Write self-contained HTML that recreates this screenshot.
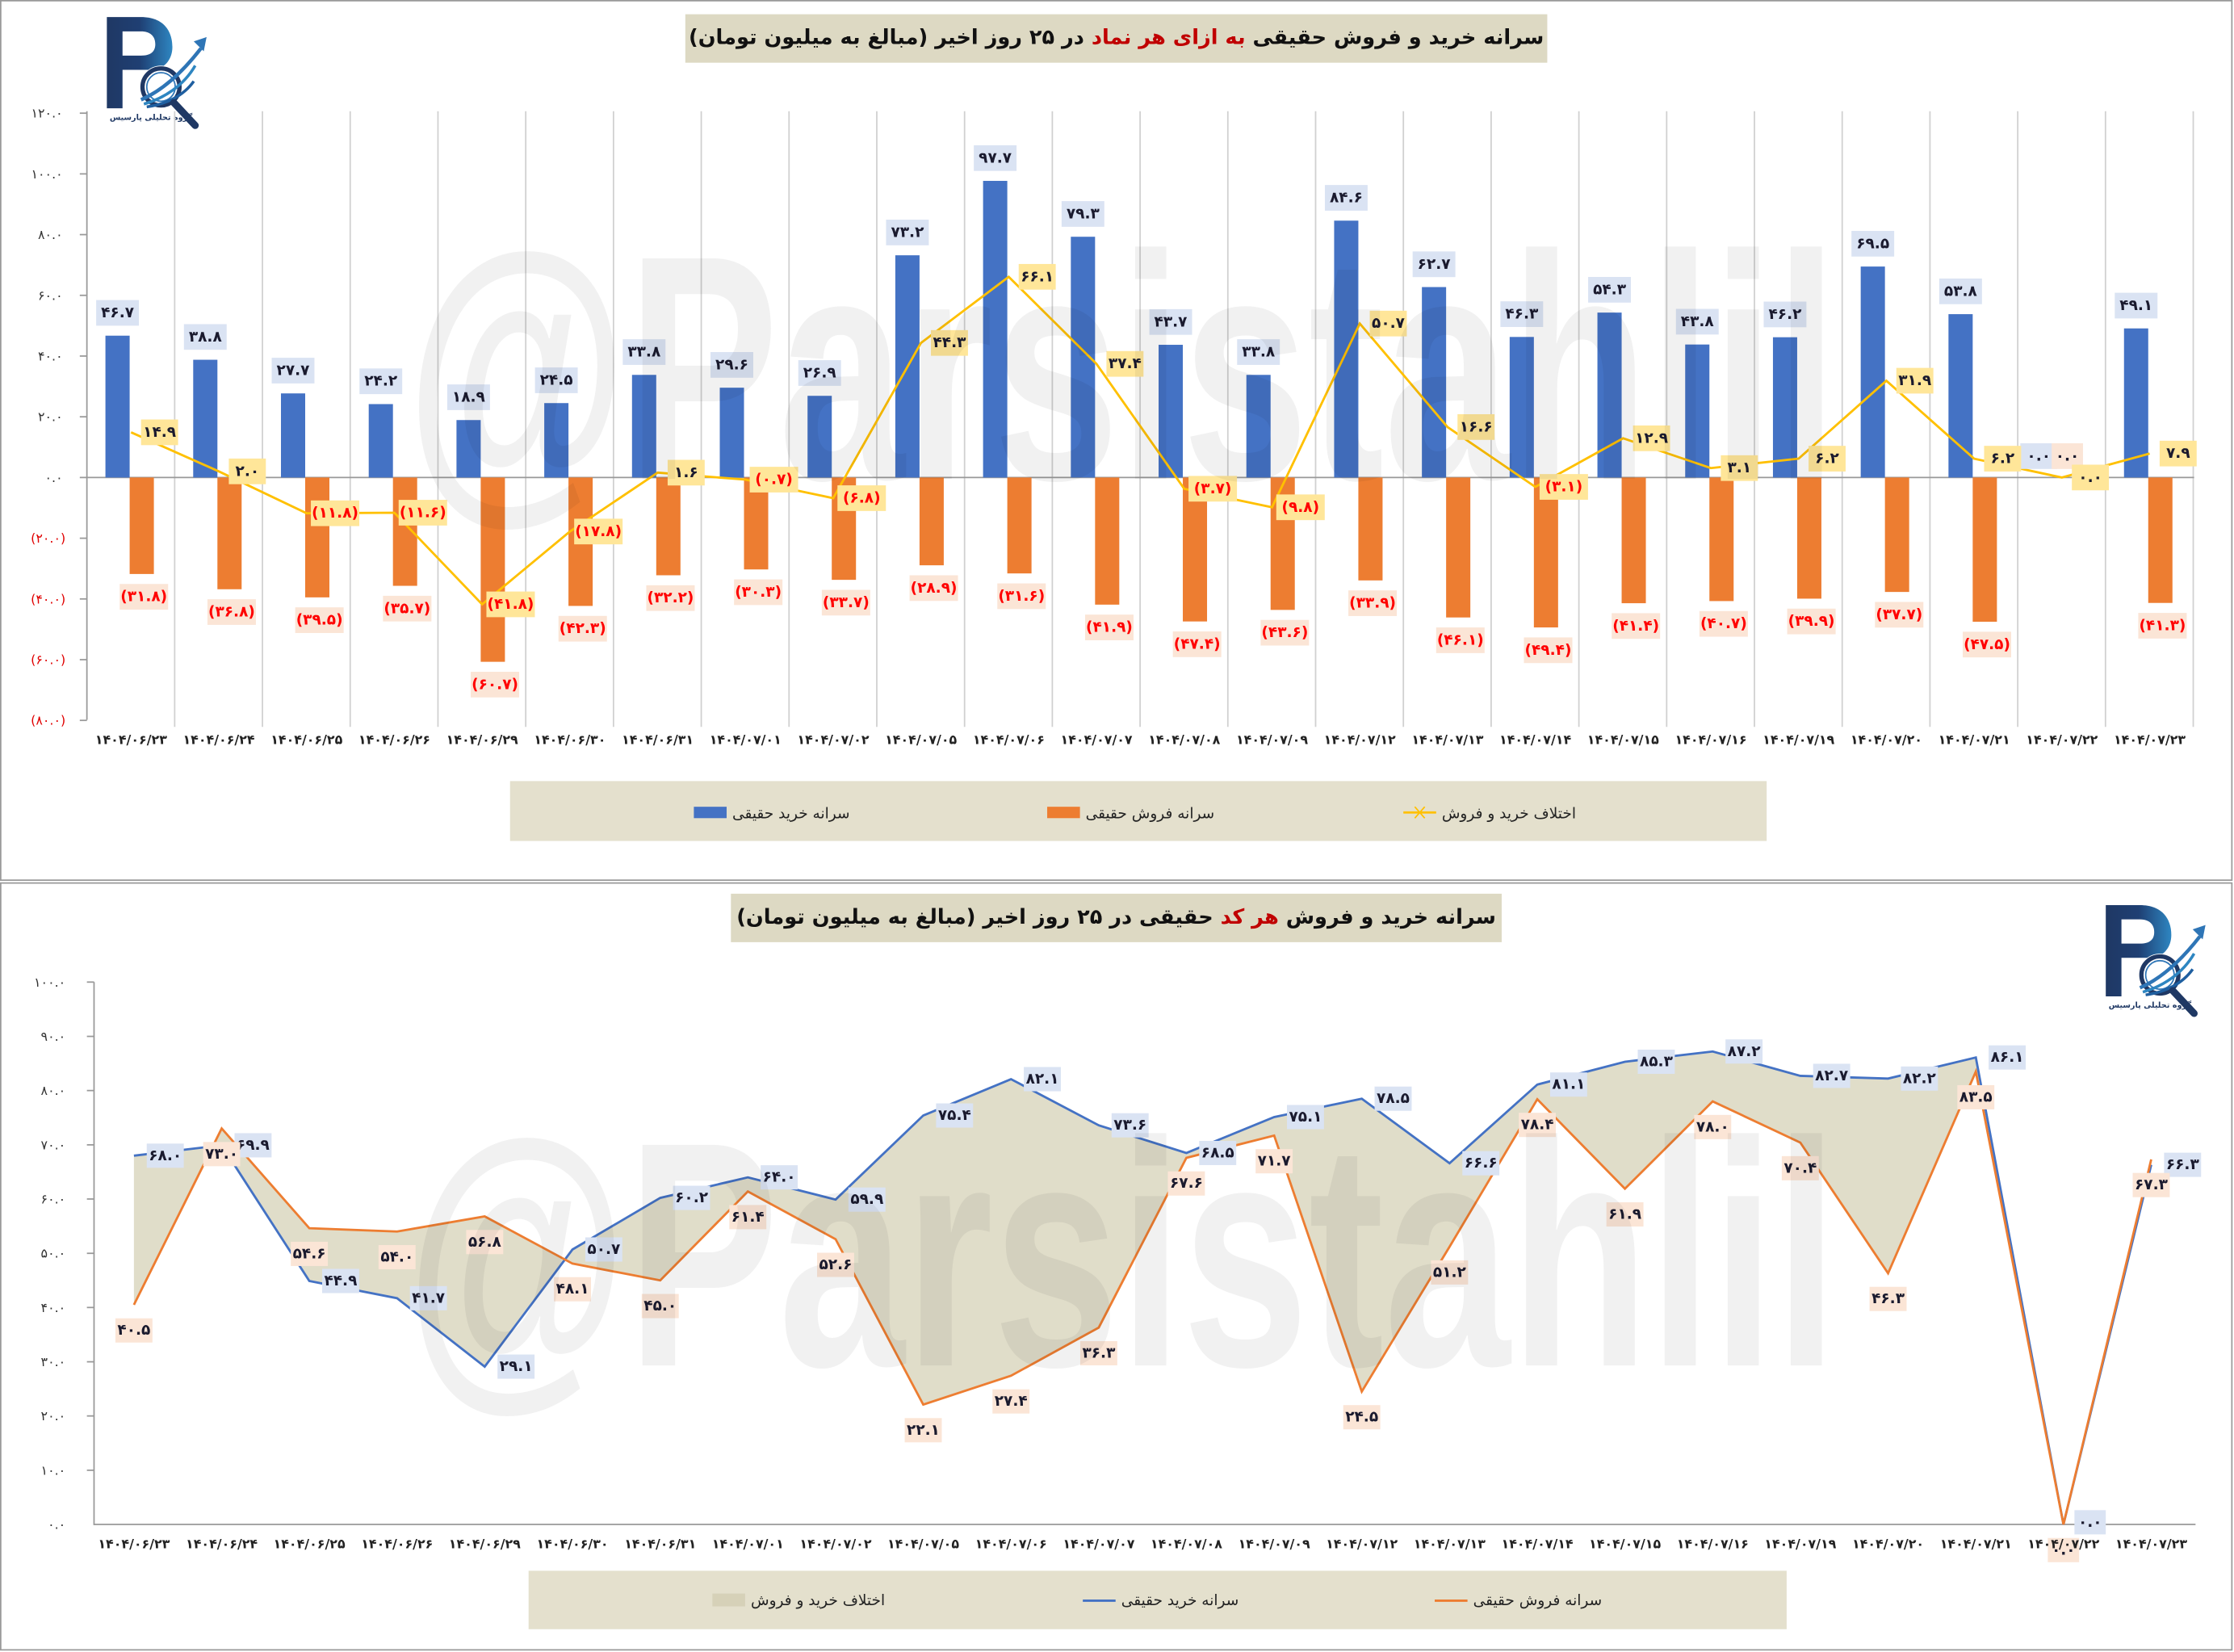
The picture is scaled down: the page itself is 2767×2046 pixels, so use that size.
<!DOCTYPE html>
<html><head><meta charset="utf-8">
<style>
html,body{margin:0;padding:0;background:#fff;}
body{width:2767px;height:2046px;overflow:hidden;position:relative;}
#w{position:absolute;left:0;top:0;width:1568px;height:1159px;transform:scale(1.76467,1.76531);transform-origin:0 0;}
svg{position:absolute;left:0;top:0;}
.t{font-family:"DejaVu Sans",sans-serif;font-weight:bold;font-size:10.5px;}
.ax{font-family:"DejaVu Sans",sans-serif;font-size:9px;fill:#333;}
.dx{font-family:"DejaVu Sans",sans-serif;font-weight:bold;font-size:9px;fill:#222;}
.ttl{position:absolute;background:#ddd9c3;font-family:"DejaVu Sans",sans-serif;font-weight:bold;color:#111;direction:rtl;white-space:nowrap;text-align:center;font-size:14.5px;line-height:34px;}
.ttl span{color:#c00000;}
.lg{font-family:"DejaVu Sans",sans-serif;font-size:10.5px;fill:#222;}
</style></head><body><div id="w">
<svg width="1568" height="1159" viewBox="0 0 1568 1159">
<defs>
<linearGradient id="lgp" x1="0" x2="1" y1="0" y2="0"><stop offset="0" stop-color="#1f3864"/><stop offset="0.5" stop-color="#1f3f73"/><stop offset="1" stop-color="#2e86c1"/></linearGradient>
<g id="logo">
<path d="M0 0 H24 C40 0 46 10 46 21 C46 30 40 37 31 37 L11 37 L11 64 L0 64 Z M11 10 L11 27 L24 27 C31 27 34 24 34 19 C34 13 30 10 24 10 Z" fill="url(#lgp)" fill-rule="evenodd"/>
<circle cx="38" cy="49" r="15" fill="#fff"/>
<circle cx="38" cy="49" r="13" fill="none" stroke="#1f3864" stroke-width="3"/>
<circle cx="38" cy="49" r="10" fill="none" stroke="#2e75b6" stroke-width="1"/>
<path d="M24 58 C38 52 52 40 66 22" fill="none" stroke="#2e75b6" stroke-width="2.5"/>
<path d="M26 61 C40 57 54 48 62 34" fill="none" stroke="#2e86c1" stroke-width="2"/>
<path d="M28 63 C42 61 54 55 61 45" fill="none" stroke="#1f5fa0" stroke-width="2"/>
<path d="M61 17 L70 14 L68 24 Z" fill="#2e75b6"/>
<path d="M47 60 L62 76" stroke="#1f3864" stroke-width="5" stroke-linecap="round"/>
<text x="2" y="72" font-family="DejaVu Sans,sans-serif" font-size="5.5" font-weight="bold" fill="#1f3864">گروه تحلیلی پارسیس</text>
</g>
</defs>
<rect x="0.5" y="0.5" width="1566" height="617" fill="#fff" stroke="#9a9a9a"/>
<rect x="0.5" y="619.5" width="1566" height="538" fill="#fff" stroke="#9a9a9a"/>
<use href="#logo" x="75" y="12"/>
<use href="#logo" x="1478" y="635"/>

<g stroke="#d0d0d0" stroke-width="1">
<line x1="122.6" y1="78" x2="122.6" y2="510"/><line x1="184.2" y1="78" x2="184.2" y2="510"/><line x1="245.8" y1="78" x2="245.8" y2="510"/><line x1="307.4" y1="78" x2="307.4" y2="510"/><line x1="369" y1="78" x2="369" y2="510"/><line x1="430.6" y1="78" x2="430.6" y2="510"/><line x1="492.2" y1="78" x2="492.2" y2="510"/><line x1="553.8" y1="78" x2="553.8" y2="510"/><line x1="615.4" y1="78" x2="615.4" y2="510"/><line x1="677" y1="78" x2="677" y2="510"/><line x1="738.6" y1="78" x2="738.6" y2="510"/><line x1="800.2" y1="78" x2="800.2" y2="510"/><line x1="861.8" y1="78" x2="861.8" y2="510"/><line x1="923.4" y1="78" x2="923.4" y2="510"/><line x1="985" y1="78" x2="985" y2="510"/><line x1="1046.6" y1="78" x2="1046.6" y2="510"/><line x1="1108.2" y1="78" x2="1108.2" y2="510"/><line x1="1169.8" y1="78" x2="1169.8" y2="510"/><line x1="1231.4" y1="78" x2="1231.4" y2="510"/><line x1="1293" y1="78" x2="1293" y2="510"/><line x1="1354.6" y1="78" x2="1354.6" y2="510"/><line x1="1416.2" y1="78" x2="1416.2" y2="510"/><line x1="1477.8" y1="78" x2="1477.8" y2="510"/><line x1="1539.4" y1="78" x2="1539.4" y2="510"/>
</g>
<g stroke="#999" stroke-width="1">
<line x1="61" y1="78" x2="61" y2="505"/>
<line x1="61" y1="335" x2="1540" y2="335"/>
<line x1="56" y1="79.4" x2="61" y2="79.4"/><line x1="56" y1="122" x2="61" y2="122"/><line x1="56" y1="164.6" x2="61" y2="164.6"/><line x1="56" y1="207.2" x2="61" y2="207.2"/><line x1="56" y1="249.8" x2="61" y2="249.8"/><line x1="56" y1="292.4" x2="61" y2="292.4"/><line x1="56" y1="335" x2="61" y2="335"/><line x1="56" y1="377.6" x2="61" y2="377.6"/><line x1="56" y1="420.2" x2="61" y2="420.2"/><line x1="56" y1="462.8" x2="61" y2="462.8"/><line x1="56" y1="505.4" x2="61" y2="505.4"/>
</g>
<g class="ax" text-anchor="end" dominant-baseline="central">
<text x="44" y="79.4">۱۲۰.۰</text><text x="44" y="122">۱۰۰.۰</text><text x="44" y="164.6">۸۰.۰</text><text x="44" y="207.2">۶۰.۰</text><text x="44" y="249.8">۴۰.۰</text><text x="44" y="292.4">۲۰.۰</text><text x="44" y="335">۰.۰</text>
<text x="46" y="377.6" fill="#e00000">(۲۰.۰)</text><text x="46" y="420.2" fill="#e00000">(۴۰.۰)</text><text x="46" y="462.8" fill="#e00000">(۶۰.۰)</text><text x="46" y="505.4" fill="#e00000">(۸۰.۰)</text>
</g>
<g fill="#4472c4">
<rect x="74" y="235.5" width="17" height="99.5"/><rect x="135.6" y="252.4" width="17" height="82.6"/><rect x="197.2" y="276" width="17" height="59"/><rect x="258.8" y="283.5" width="17" height="51.5"/><rect x="320.4" y="294.7" width="17" height="40.3"/><rect x="382" y="282.8" width="17" height="52.2"/><rect x="443.6" y="263" width="17" height="72"/><rect x="505.2" y="272" width="17" height="63"/><rect x="566.8" y="277.7" width="17" height="57.3"/><rect x="628.4" y="179.1" width="17" height="155.9"/><rect x="690" y="126.9" width="17" height="208.1"/><rect x="751.6" y="166.1" width="17" height="168.9"/><rect x="813.2" y="241.9" width="17" height="93.1"/><rect x="874.8" y="263" width="17" height="72"/><rect x="936.4" y="154.8" width="17" height="180.2"/><rect x="998" y="201.4" width="17" height="133.6"/><rect x="1059.6" y="236.4" width="17" height="98.6"/><rect x="1121.2" y="219.3" width="17" height="115.7"/><rect x="1182.8" y="241.7" width="17" height="93.3"/><rect x="1244.4" y="236.6" width="17" height="98.4"/><rect x="1306" y="187" width="17" height="148"/><rect x="1367.6" y="220.4" width="17" height="114.6"/><rect x="1490.8" y="230.4" width="17" height="104.6"/>
</g>
<g fill="#ed7d31">
<rect x="91" y="335" width="17" height="67.7"/><rect x="152.6" y="335" width="17" height="78.4"/><rect x="214.2" y="335" width="17" height="84.1"/><rect x="275.8" y="335" width="17" height="76"/><rect x="337.4" y="335" width="17" height="129.3"/><rect x="399" y="335" width="17" height="90.1"/><rect x="460.6" y="335" width="17" height="68.6"/><rect x="522.2" y="335" width="17" height="64.5"/><rect x="583.8" y="335" width="17" height="71.8"/><rect x="645.4" y="335" width="17" height="61.6"/><rect x="707" y="335" width="17" height="67.3"/><rect x="768.6" y="335" width="17" height="89.2"/><rect x="830.2" y="335" width="17" height="101"/><rect x="891.8" y="335" width="17" height="92.9"/><rect x="953.4" y="335" width="17" height="72.2"/><rect x="1015" y="335" width="17" height="98.2"/><rect x="1076.6" y="335" width="17" height="105.2"/><rect x="1138.2" y="335" width="17" height="88.2"/><rect x="1199.8" y="335" width="17" height="86.7"/><rect x="1261.4" y="335" width="17" height="85"/><rect x="1323" y="335" width="17" height="80.3"/><rect x="1384.6" y="335" width="17" height="101.2"/><rect x="1507.8" y="335" width="17" height="88"/>
</g>
<polyline fill="none" stroke="#ffc000" stroke-width="1.6" points="92,303.3 153.6,330.7 215.2,360.1 276.8,359.7 338.4,424 400,372.9 461.6,331.6 523.2,336.5 584.8,349.5 646.4,240.6 708,194.2 769.6,255.3 831.2,342.9 892.8,355.9 954.4,227 1016,299.6 1077.6,341.6 1139.2,307.5 1200.8,328.4 1262.4,321.8 1324,267.1 1385.6,321.8 1447.2,335 1508.8,318.2"/>
<g class="t" text-anchor="middle" dominant-baseline="central">
<g fill="#dae3f3">
<rect x="67.5" y="210.5" width="30" height="18"/><rect x="129.1" y="227.4" width="30" height="18"/><rect x="190.7" y="251" width="30" height="18"/><rect x="252.3" y="258.5" width="30" height="18"/><rect x="313.9" y="269.7" width="30" height="18"/><rect x="375.5" y="257.8" width="30" height="18"/><rect x="437.1" y="238" width="30" height="18"/><rect x="498.7" y="247" width="30" height="18"/><rect x="560.3" y="252.7" width="30" height="18"/><rect x="621.9" y="154.1" width="30" height="18"/><rect x="683.5" y="101.9" width="30" height="18"/><rect x="745.1" y="141.1" width="30" height="18"/><rect x="806.7" y="216.9" width="30" height="18"/><rect x="868.3" y="238" width="30" height="18"/><rect x="929.9" y="129.8" width="30" height="18"/><rect x="991.5" y="176.4" width="30" height="18"/><rect x="1053.1" y="211.4" width="30" height="18"/><rect x="1114.7" y="194.3" width="30" height="18"/><rect x="1176.3" y="216.7" width="30" height="18"/><rect x="1237.9" y="211.6" width="30" height="18"/><rect x="1299.5" y="162" width="30" height="18"/><rect x="1361.1" y="195.4" width="30" height="18"/><rect x="1418" y="311" width="26" height="18"/><rect x="1484.3" y="205.4" width="30" height="18"/>
</g>
<g fill="#1a1a2e">
<text x="82.5" y="219.5">۴۶.۷</text><text x="144.1" y="236.4">۳۸.۸</text><text x="205.7" y="260">۲۷.۷</text><text x="267.3" y="267.5">۲۴.۲</text><text x="328.9" y="278.7">۱۸.۹</text><text x="390.5" y="266.8">۲۴.۵</text><text x="452.1" y="247">۳۳.۸</text><text x="513.7" y="256">۲۹.۶</text><text x="575.3" y="261.7">۲۶.۹</text><text x="636.9" y="163.1">۷۳.۲</text><text x="698.5" y="110.9">۹۷.۷</text><text x="760.1" y="150.1">۷۹.۳</text><text x="821.7" y="225.9">۴۳.۷</text><text x="883.3" y="247">۳۳.۸</text><text x="944.9" y="138.8">۸۴.۶</text><text x="1006.5" y="185.4">۶۲.۷</text><text x="1068.1" y="220.4">۴۶.۳</text><text x="1129.7" y="203.3">۵۴.۳</text><text x="1191.3" y="225.7">۴۳.۸</text><text x="1252.9" y="220.6">۴۶.۲</text><text x="1314.5" y="171">۶۹.۵</text><text x="1376.1" y="204.4">۵۳.۸</text><text x="1431" y="320">۰.۰</text><text x="1499.3" y="214.4">۴۹.۱</text>
</g>
<g fill="#fbe5d6">
<rect x="84" y="409.7" width="34" height="18"/><rect x="145.6" y="420.4" width="34" height="18"/><rect x="207.2" y="426.1" width="34" height="18"/><rect x="268.8" y="418" width="34" height="18"/><rect x="330.4" y="471.3" width="34" height="18"/><rect x="392" y="432.1" width="34" height="18"/><rect x="453.6" y="410.6" width="34" height="18"/><rect x="515.2" y="406.5" width="34" height="18"/><rect x="576.8" y="413.8" width="34" height="18"/><rect x="638.4" y="403.6" width="34" height="18"/><rect x="700" y="409.3" width="34" height="18"/><rect x="761.6" y="431.2" width="34" height="18"/><rect x="823.2" y="443" width="34" height="18"/><rect x="884.8" y="434.9" width="34" height="18"/><rect x="946.4" y="414.2" width="34" height="18"/><rect x="1008" y="440.2" width="34" height="18"/><rect x="1069.6" y="447.2" width="34" height="18"/><rect x="1131.2" y="430.2" width="34" height="18"/><rect x="1192.8" y="428.7" width="34" height="18"/><rect x="1254.4" y="427" width="34" height="18"/><rect x="1316" y="422.3" width="34" height="18"/><rect x="1377.6" y="443.2" width="34" height="18"/><rect x="1440" y="311" width="22" height="18"/><rect x="1500.8" y="430" width="34" height="18"/>
</g>
<g fill="#ff0000">
<text x="101" y="418.7">(۳۱.۸)</text><text x="162.6" y="429.4">(۳۶.۸)</text><text x="224.2" y="435.1">(۳۹.۵)</text><text x="285.8" y="427">(۳۵.۷)</text><text x="347.4" y="480.3">(۶۰.۷)</text><text x="409" y="441.1">(۴۲.۳)</text><text x="470.6" y="419.6">(۳۲.۲)</text><text x="532.2" y="415.5">(۳۰.۳)</text><text x="593.8" y="422.8">(۳۳.۷)</text><text x="655.4" y="412.6">(۲۸.۹)</text><text x="717" y="418.3">(۳۱.۶)</text><text x="778.6" y="440.2">(۴۱.۹)</text><text x="840.2" y="452">(۴۷.۴)</text><text x="901.8" y="443.9">(۴۳.۶)</text><text x="963.4" y="423.2">(۳۳.۹)</text><text x="1025" y="449.2">(۴۶.۱)</text><text x="1086.6" y="456.2">(۴۹.۴)</text><text x="1148.2" y="439.2">(۴۱.۴)</text><text x="1209.8" y="437.7">(۴۰.۷)</text><text x="1271.4" y="436">(۳۹.۹)</text><text x="1333" y="431.3">(۳۷.۷)</text><text x="1394.6" y="452.2">(۴۷.۵)</text><text x="1451" y="320" fill="#1a1a2e">۰.۰</text><text x="1517.8" y="439">(۴۱.۳)</text>
</g>
<g fill="#ffe699">
<rect x="99" y="294.3" width="26" height="18"/><rect x="160.6" y="321.7" width="26" height="18"/><rect x="218.2" y="351.1" width="34" height="18"/><rect x="279.8" y="350.7" width="34" height="18"/><rect x="341.4" y="415" width="34" height="18"/><rect x="403" y="363.9" width="34" height="18"/><rect x="468.6" y="322.6" width="26" height="18"/><rect x="526.2" y="327.5" width="34" height="18"/><rect x="587.8" y="340.5" width="34" height="18"/><rect x="653.4" y="231.6" width="26" height="18"/><rect x="715" y="185.2" width="26" height="18"/><rect x="776.6" y="246.3" width="26" height="18"/><rect x="834.2" y="333.9" width="34" height="18"/><rect x="895.8" y="346.9" width="34" height="18"/><rect x="961.4" y="218" width="26" height="18"/><rect x="1023" y="290.6" width="26" height="18"/><rect x="1080.6" y="332.6" width="34" height="18"/><rect x="1146.2" y="298.5" width="26" height="18"/><rect x="1207.8" y="319.4" width="26" height="18"/><rect x="1269.4" y="312.8" width="26" height="18"/><rect x="1331" y="258.1" width="26" height="18"/><rect x="1392.6" y="312.8" width="26" height="18"/><rect x="1454.2" y="326" width="26" height="18"/><rect x="1515.8" y="309.2" width="26" height="18"/>
</g>
<g fill="#1a1a2e">
<text x="112" y="303.3">۱۴.۹</text><text x="173.6" y="330.7">۲.۰</text><text x="235.2" y="360.1" fill="#ff0000">(۱۱.۸)</text><text x="296.8" y="359.7" fill="#ff0000">(۱۱.۶)</text><text x="358.4" y="424" fill="#ff0000">(۴۱.۸)</text><text x="420" y="372.9" fill="#ff0000">(۱۷.۸)</text><text x="481.6" y="331.6">۱.۶</text><text x="543.2" y="336.5" fill="#ff0000">(۰.۷)</text><text x="604.8" y="349.5" fill="#ff0000">(۶.۸)</text><text x="666.4" y="240.6">۴۴.۳</text><text x="728" y="194.2">۶۶.۱</text><text x="789.6" y="255.3">۳۷.۴</text><text x="851.2" y="342.9" fill="#ff0000">(۳.۷)</text><text x="912.8" y="355.9" fill="#ff0000">(۹.۸)</text><text x="974.4" y="227">۵۰.۷</text><text x="1036" y="299.6">۱۶.۶</text><text x="1097.6" y="341.6" fill="#ff0000">(۳.۱)</text><text x="1159.2" y="307.5">۱۲.۹</text><text x="1220.8" y="328.4">۳.۱</text><text x="1282.4" y="321.8">۶.۲</text><text x="1344" y="267.1">۳۱.۹</text><text x="1405.6" y="321.8">۶.۲</text><text x="1467.2" y="335">۰.۰</text><text x="1528.8" y="318.2">۷.۹</text>
</g>
</g>
<g class="dx" text-anchor="middle" dominant-baseline="central">
<text x="92" y="519">۱۴۰۴/۰۶/۲۳</text><text x="153.6" y="519">۱۴۰۴/۰۶/۲۴</text><text x="215.2" y="519">۱۴۰۴/۰۶/۲۵</text><text x="276.8" y="519">۱۴۰۴/۰۶/۲۶</text><text x="338.4" y="519">۱۴۰۴/۰۶/۲۹</text><text x="400" y="519">۱۴۰۴/۰۶/۳۰</text><text x="461.6" y="519">۱۴۰۴/۰۶/۳۱</text><text x="523.2" y="519">۱۴۰۴/۰۷/۰۱</text><text x="584.8" y="519">۱۴۰۴/۰۷/۰۲</text><text x="646.4" y="519">۱۴۰۴/۰۷/۰۵</text><text x="708" y="519">۱۴۰۴/۰۷/۰۶</text><text x="769.6" y="519">۱۴۰۴/۰۷/۰۷</text><text x="831.2" y="519">۱۴۰۴/۰۷/۰۸</text><text x="892.8" y="519">۱۴۰۴/۰۷/۰۹</text><text x="954.4" y="519">۱۴۰۴/۰۷/۱۲</text><text x="1016" y="519">۱۴۰۴/۰۷/۱۳</text><text x="1077.6" y="519">۱۴۰۴/۰۷/۱۴</text><text x="1139.2" y="519">۱۴۰۴/۰۷/۱۵</text><text x="1200.8" y="519">۱۴۰۴/۰۷/۱۶</text><text x="1262.4" y="519">۱۴۰۴/۰۷/۱۹</text><text x="1324" y="519">۱۴۰۴/۰۷/۲۰</text><text x="1385.6" y="519">۱۴۰۴/۰۷/۲۱</text><text x="1447.2" y="519">۱۴۰۴/۰۷/۲۲</text><text x="1508.8" y="519">۱۴۰۴/۰۷/۲۳</text>
</g>
<rect x="358" y="548" width="882" height="42" fill="#e4e0cd"/>
<rect x="487" y="566" width="23" height="8" fill="#4472c4"/>
<text class="lg" x="514" y="571" dominant-baseline="central">سرانه خرید حقیقی</text>
<rect x="735" y="566" width="23" height="8" fill="#ed7d31"/>
<text class="lg" x="762" y="571" dominant-baseline="central">سرانه فروش حقیقی</text>
<line x1="985" y1="570" x2="1008" y2="570" stroke="#ffc000" stroke-width="1.6"/>
<path d="M993 566 L1000 574 M1000 566 L993 574" stroke="#ffc000" stroke-width="1"/>
<text class="lg" x="1012" y="571" dominant-baseline="central">اختلاف خرید و فروش</text>

<g stroke="#999" stroke-width="1">
<line x1="66" y1="689" x2="66" y2="1070"/>
<line x1="66" y1="1069.5" x2="1541" y2="1069.5"/>
<line x1="61" y1="689" x2="66" y2="689"/><line x1="61" y1="727.1" x2="66" y2="727.1"/><line x1="61" y1="765.1" x2="66" y2="765.1"/><line x1="61" y1="803.2" x2="66" y2="803.2"/><line x1="61" y1="841.2" x2="66" y2="841.2"/><line x1="61" y1="879.3" x2="66" y2="879.3"/><line x1="61" y1="917.3" x2="66" y2="917.3"/><line x1="61" y1="955.4" x2="66" y2="955.4"/><line x1="61" y1="993.4" x2="66" y2="993.4"/><line x1="61" y1="1031.5" x2="66" y2="1031.5"/>
</g>
<g class="ax" text-anchor="end" dominant-baseline="central">
<text x="46" y="689">۱۰۰.۰</text><text x="46" y="727.1">۹۰.۰</text><text x="46" y="765.1">۸۰.۰</text><text x="46" y="803.2">۷۰.۰</text><text x="46" y="841.2">۶۰.۰</text><text x="46" y="879.3">۵۰.۰</text><text x="46" y="917.3">۴۰.۰</text><text x="46" y="955.4">۳۰.۰</text><text x="46" y="993.4">۲۰.۰</text><text x="46" y="1031.5">۱۰.۰</text><text x="46" y="1069.5">۰.۰</text>
</g>
<polygon fill="#ddd9c3" fill-opacity="0.9" points="94,810.8 155.6,803.5 217.1,898.7 278.7,910.8 340.2,958.8 401.8,876.6 463.4,840.4 524.9,826 586.5,841.6 648,782.6 709.6,757.1 771.2,789.5 832.7,808.9 894.3,783.7 955.8,770.8 1017.4,816.1 1079,760.9 1140.5,744.9 1202.1,737.7 1263.6,754.8 1325.2,756.7 1386.8,741.9 1448.3,1069.5 1509.9,817.2 1509.9,813.4 1448.3,1069.5 1386.8,751.8 1325.2,893.3 1263.6,801.6 1202.1,772.7 1140.5,834 1079,771.2 1017.4,874.7 955.8,976.3 894.3,796.7 832.7,812.3 771.2,931.4 709.6,965.2 648,985.4 586.5,869.4 524.9,835.9 463.4,898.3 401.8,886.5 340.2,853.4 278.7,864 217.1,861.7 155.6,791.7 94,915.4"/>
<polyline fill="none" stroke="#4472c4" stroke-width="1.6" points="94,810.8 155.6,803.5 217.1,898.7 278.7,910.8 340.2,958.8 401.8,876.6 463.4,840.4 524.9,826 586.5,841.6 648,782.6 709.6,757.1 771.2,789.5 832.7,808.9 894.3,783.7 955.8,770.8 1017.4,816.1 1079,760.9 1140.5,744.9 1202.1,737.7 1263.6,754.8 1325.2,756.7 1386.8,741.9 1448.3,1069.5 1509.9,817.2"/>
<polyline fill="none" stroke="#ed7d31" stroke-width="1.6" points="94,915.4 155.6,791.7 217.1,861.7 278.7,864 340.2,853.4 401.8,886.5 463.4,898.3 524.9,835.9 586.5,869.4 648,985.4 709.6,965.2 771.2,931.4 832.7,812.3 894.3,796.7 955.8,976.3 1017.4,874.7 1079,771.2 1140.5,834 1202.1,772.7 1263.6,801.6 1325.2,893.3 1386.8,751.8 1448.3,1069.5 1509.9,813.4"/>
<g class="t" text-anchor="middle" dominant-baseline="central">
<g fill="#dae3f3">
<rect x="103" y="802.3" width="26" height="17"/><rect x="164.6" y="795" width="26" height="17"/><rect x="226.1" y="890.2" width="26" height="17"/><rect x="287.7" y="902.3" width="26" height="17"/><rect x="349.2" y="950.3" width="26" height="17"/><rect x="410.8" y="868.1" width="26" height="17"/><rect x="472.4" y="831.9" width="26" height="17"/><rect x="533.9" y="817.5" width="26" height="17"/><rect x="595.5" y="833.1" width="26" height="17"/><rect x="657" y="774.1" width="26" height="17"/><rect x="718.6" y="748.6" width="26" height="17"/><rect x="780.2" y="781" width="26" height="17"/><rect x="841.7" y="800.4" width="26" height="17"/><rect x="903.3" y="775.2" width="26" height="17"/><rect x="964.8" y="762.3" width="26" height="17"/><rect x="1026.4" y="807.6" width="26" height="17"/><rect x="1088" y="752.4" width="26" height="17"/><rect x="1149.5" y="736.4" width="26" height="17"/><rect x="1211.1" y="729.2" width="26" height="17"/><rect x="1272.6" y="746.3" width="26" height="17"/><rect x="1334.2" y="748.2" width="26" height="17"/><rect x="1395.8" y="733.4" width="26" height="17"/><rect x="1456" y="1059.5" width="22" height="17"/><rect x="1518.9" y="808.7" width="26" height="17"/>
</g>
<g fill="#1a1a2e">
<text x="116" y="810.8">۶۸.۰</text><text x="177.6" y="803.5">۶۹.۹</text><text x="239.1" y="898.7">۴۴.۹</text><text x="300.7" y="910.8">۴۱.۷</text><text x="362.2" y="958.8">۲۹.۱</text><text x="423.8" y="876.6">۵۰.۷</text><text x="485.4" y="840.4">۶۰.۲</text><text x="546.9" y="826">۶۴.۰</text><text x="608.5" y="841.6">۵۹.۹</text><text x="670" y="782.6">۷۵.۴</text><text x="731.6" y="757.1">۸۲.۱</text><text x="793.2" y="789.5">۷۳.۶</text><text x="854.7" y="808.9">۶۸.۵</text><text x="916.3" y="783.7">۷۵.۱</text><text x="977.8" y="770.8">۷۸.۵</text><text x="1039.4" y="816.1">۶۶.۶</text><text x="1101" y="760.9">۸۱.۱</text><text x="1162.5" y="744.9">۸۵.۳</text><text x="1224.1" y="737.7">۸۷.۲</text><text x="1285.6" y="754.8">۸۲.۷</text><text x="1347.2" y="756.7">۸۲.۲</text><text x="1408.8" y="741.9">۸۶.۱</text><text x="1467" y="1068">۰.۰</text><text x="1531.9" y="817.2">۶۶.۳</text>
</g>
<g fill="#fbe5d6">
<rect x="81" y="924.9" width="26" height="17"/><rect x="142.6" y="801.2" width="26" height="17"/><rect x="204.1" y="871.2" width="26" height="17"/><rect x="265.7" y="873.5" width="26" height="17"/><rect x="327.2" y="862.9" width="26" height="17"/><rect x="388.8" y="896" width="26" height="17"/><rect x="450.4" y="907.8" width="26" height="17"/><rect x="511.9" y="845.4" width="26" height="17"/><rect x="573.5" y="878.9" width="26" height="17"/><rect x="635" y="994.9" width="26" height="17"/><rect x="696.6" y="974.7" width="26" height="17"/><rect x="758.2" y="940.9" width="26" height="17"/><rect x="819.7" y="821.8" width="26" height="17"/><rect x="881.3" y="806.2" width="26" height="17"/><rect x="942.8" y="985.8" width="26" height="17"/><rect x="1004.4" y="884.2" width="26" height="17"/><rect x="1066" y="780.7" width="26" height="17"/><rect x="1127.5" y="843.5" width="26" height="17"/><rect x="1189.1" y="782.2" width="26" height="17"/><rect x="1250.6" y="811.1" width="26" height="17"/><rect x="1312.2" y="902.8" width="26" height="17"/><rect x="1373.8" y="761.3" width="26" height="17"/><rect x="1437.3" y="1079" width="22" height="17"/><rect x="1496.9" y="822.9" width="26" height="17"/>
</g>
<g fill="#1a1a2e">
<text x="94" y="933.4">۴۰.۵</text><text x="155.6" y="809.7">۷۳.۰</text><text x="217.1" y="879.7">۵۴.۶</text><text x="278.7" y="882">۵۴.۰</text><text x="340.2" y="871.4">۵۶.۸</text><text x="401.8" y="904.5">۴۸.۱</text><text x="463.4" y="916.3">۴۵.۰</text><text x="524.9" y="853.9">۶۱.۴</text><text x="586.5" y="887.4">۵۲.۶</text><text x="648" y="1003.4">۲۲.۱</text><text x="709.6" y="983.2">۲۷.۴</text><text x="771.2" y="949.4">۳۶.۳</text><text x="832.7" y="830.3">۶۷.۶</text><text x="894.3" y="814.7">۷۱.۷</text><text x="955.8" y="994.3">۲۴.۵</text><text x="1017.4" y="892.7">۵۱.۲</text><text x="1079" y="789.2">۷۸.۴</text><text x="1140.5" y="852">۶۱.۹</text><text x="1202.1" y="790.7">۷۸.۰</text><text x="1263.6" y="819.6">۷۰.۴</text><text x="1325.2" y="911.3">۴۶.۳</text><text x="1386.8" y="769.8">۸۳.۵</text><text x="1448.3" y="1087.5">۰.۰</text><text x="1509.9" y="831.4">۶۷.۳</text>
</g>
</g>
<g class="dx" text-anchor="middle" dominant-baseline="central">
<text x="94" y="1083">۱۴۰۴/۰۶/۲۳</text><text x="155.6" y="1083">۱۴۰۴/۰۶/۲۴</text><text x="217.1" y="1083">۱۴۰۴/۰۶/۲۵</text><text x="278.7" y="1083">۱۴۰۴/۰۶/۲۶</text><text x="340.2" y="1083">۱۴۰۴/۰۶/۲۹</text><text x="401.8" y="1083">۱۴۰۴/۰۶/۳۰</text><text x="463.4" y="1083">۱۴۰۴/۰۶/۳۱</text><text x="524.9" y="1083">۱۴۰۴/۰۷/۰۱</text><text x="586.5" y="1083">۱۴۰۴/۰۷/۰۲</text><text x="648" y="1083">۱۴۰۴/۰۷/۰۵</text><text x="709.6" y="1083">۱۴۰۴/۰۷/۰۶</text><text x="771.2" y="1083">۱۴۰۴/۰۷/۰۷</text><text x="832.7" y="1083">۱۴۰۴/۰۷/۰۸</text><text x="894.3" y="1083">۱۴۰۴/۰۷/۰۹</text><text x="955.8" y="1083">۱۴۰۴/۰۷/۱۲</text><text x="1017.4" y="1083">۱۴۰۴/۰۷/۱۳</text><text x="1079" y="1083">۱۴۰۴/۰۷/۱۴</text><text x="1140.5" y="1083">۱۴۰۴/۰۷/۱۵</text><text x="1202.1" y="1083">۱۴۰۴/۰۷/۱۶</text><text x="1263.6" y="1083">۱۴۰۴/۰۷/۱۹</text><text x="1325.2" y="1083">۱۴۰۴/۰۷/۲۰</text><text x="1386.8" y="1083">۱۴۰۴/۰۷/۲۱</text><text x="1448.3" y="1083">۱۴۰۴/۰۷/۲۲</text><text x="1509.9" y="1083">۱۴۰۴/۰۷/۲۳</text>
</g>
<rect x="371" y="1102" width="883" height="41" fill="#e4e0cd"/>
<rect x="500" y="1118" width="23" height="9" fill="#d6d1b8"/>
<text class="lg" x="527" y="1123" dominant-baseline="central">اختلاف خرید و فروش</text>
<line x1="760" y1="1123" x2="783" y2="1123" stroke="#4472c4" stroke-width="1.6"/>
<text class="lg" x="787" y="1123" dominant-baseline="central">سرانه خرید حقیقی</text>
<line x1="1007" y1="1123" x2="1030" y2="1123" stroke="#ed7d31" stroke-width="1.6"/>
<text class="lg" x="1034" y="1123" dominant-baseline="central">سرانه فروش حقیقی</text>

<text x="285" y="336" textLength="1005" lengthAdjust="spacingAndGlyphs" font-family="Liberation Sans,sans-serif" font-weight="bold" font-size="225" fill="#000" fill-opacity="0.055">@Parsistahlil</text>
<text x="285" y="958" textLength="1005" lengthAdjust="spacingAndGlyphs" font-family="Liberation Sans,sans-serif" font-weight="bold" font-size="225" fill="#000" fill-opacity="0.055">@Parsistahlil</text>
</svg>
<div class="ttl" style="left:481px;top:10px;width:605px;height:34px;">سرانه خرید و فروش حقیقی <span>به ازای هر نماد</span> در ۲۵ روز اخیر (مبالغ به میلیون تومان)</div>
<div class="ttl" style="left:513px;top:627px;width:541px;height:34px;">سرانه خرید و فروش <span>هر کد</span> حقیقی در ۲۵ روز اخیر (مبالغ به میلیون تومان)</div>
</div></body></html>
